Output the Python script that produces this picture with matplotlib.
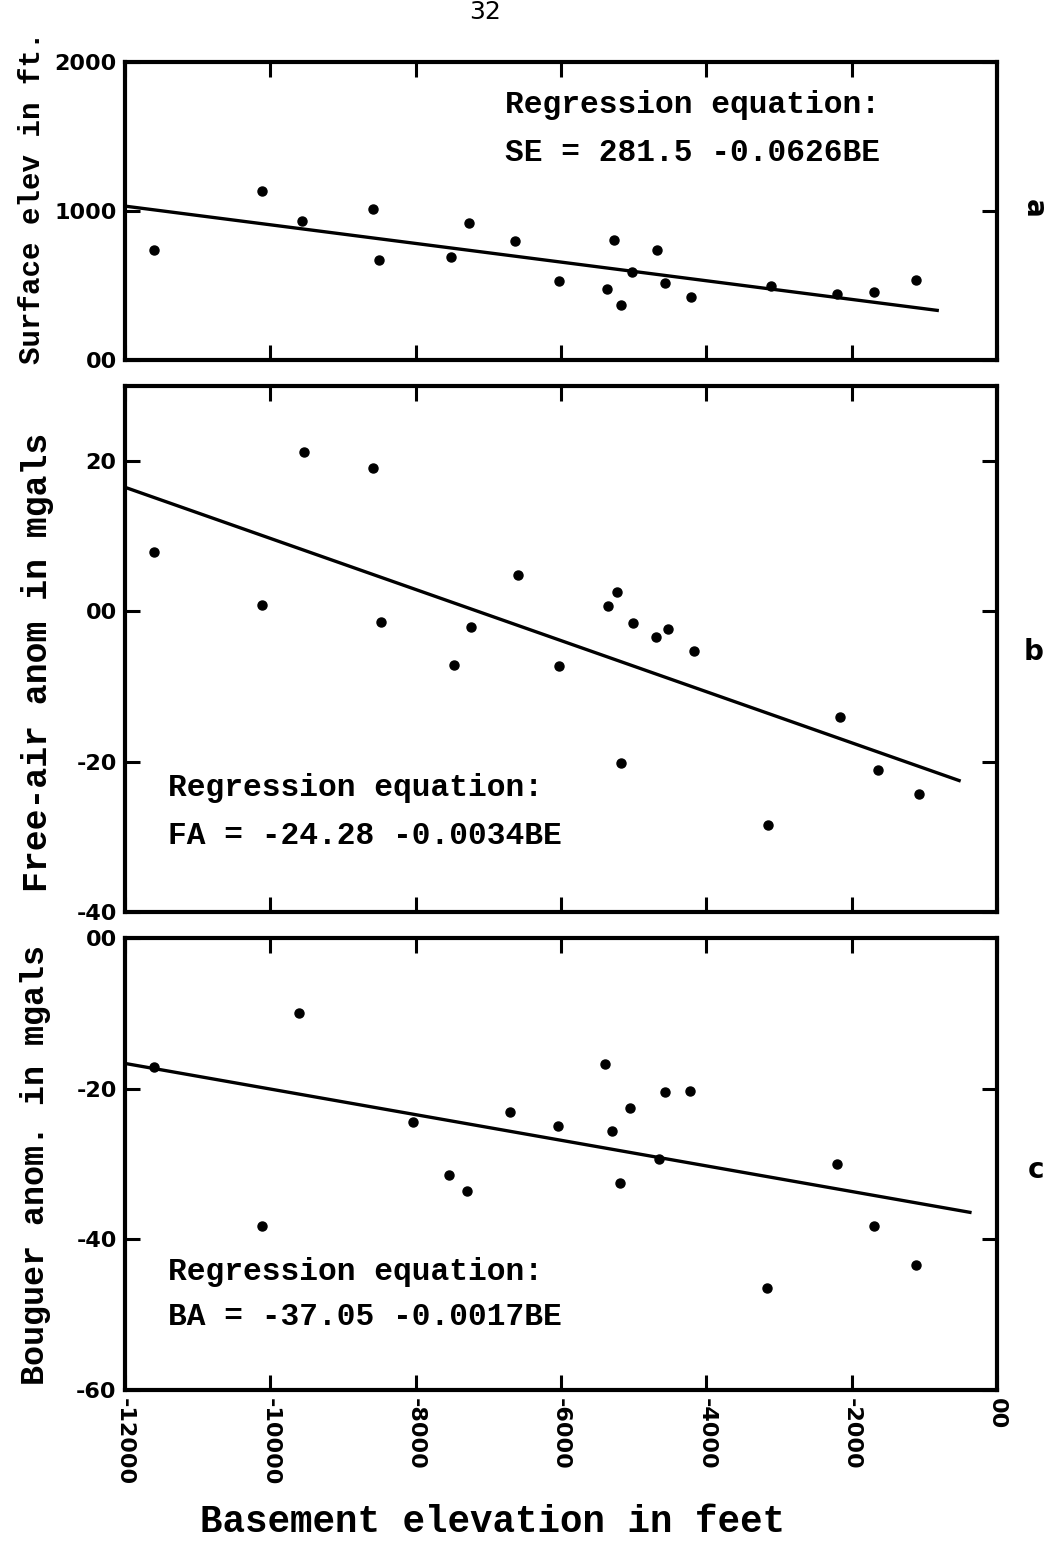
import numpy as np
import matplotlib
matplotlib.use("Agg")
import matplotlib.pyplot as plt

# well data (basement elevation in ft vs. quantity)
se_x = [-11600, -10120, -9560, -8585, -8500, -7510, -7270, -6630, -6030, -5370,
        -5270, -5175, -5020, -4680, -4565, -4205, -3110, -2200, -1690, -1115]
se_y = [738, 1137, 931, 1011, 674, 692, 922, 800, 530, 474,
        805, 370, 588, 738, 519, 424, 499, 441, 459, 537]

fa_x = [-11600, -10115, -9540, -8583, -8477, -7478, -7234, -6594, -6032, -5350,
        -5235, -5180, -5014, -4691, -4530, -4166, -3150, -2163, -1637, -1070]
fa_y = [7.9, 0.9, 21.2, 19.1, -1.4, -7.1, -2.1, 4.9, -7.3, 0.75,
        2.6, -20.2, -1.5, -3.4, -2.4, -5.3, -28.4, -14.1, -21.1, -24.3]

ba_x = [-11606, -10118, -9611, -8036, -7540, -7289, -6706, -6040, -5392, -5300,
        -5185, -5056, -4655, -4572, -4223, -3159, -2205, -1690, -1112]
ba_y = [-17.1, -38.2, -9.9, -24.4, -31.4, -33.6, -23.1, -25.0, -16.7, -25.6,
        -32.5, -22.5, -29.4, -20.5, -20.3, -46.4, -30.0, -38.2, -43.4]

# regression (intercept, slope) and the x span of each fitted line
se_fit = (281.5, -0.0626)
fa_fit = (-24.28, -0.0034)
ba_fit = (-37.05, -0.0017)
se_span = [-12000, -800]
fa_span = [-12000, -500]
ba_span = [-12000, -350]

x_ticks = [-12000, -10000, -8000, -6000, -4000, -2000, 0]
x_labels = ["-12000", "-10000", "-8000", "-6000", "-4000", "-2000", "00"]

W, H = 1049, 1551
fig = plt.figure(figsize=(W / 100, H / 100), dpi=100)


def box(l, t, r, b):
    return [l / W, 1 - b / H, (r - l) / W, (b - t) / H]


mono = {"family": "Liberation Mono", "weight": "bold"}
tickfont = {"family": "DejaVu Sans", "weight": "bold", "size": 16}


def setup(ax, ylim, yticks, ylabels, show_x=False):
    ax.set_xlim(-12000, 0)
    ax.set_ylim(*ylim)
    ax.set_xticks(x_ticks)
    ax.set_yticks(yticks)
    ax.set_yticklabels(ylabels, **tickfont)
    if show_x:
        ax.set_xticklabels(x_labels, rotation=-90, **tickfont)
    else:
        ax.set_xticklabels([])
    ax.tick_params(direction="in", length=11, width=2.2, top=True, right=True,
                   pad=6)
    for s in ax.spines.values():
        s.set_linewidth(3)


def panel(ax, x, y, fit, span):
    ax.plot(x, y, "o", color="black", markersize=6.5)
    xs = np.array(span)
    ax.plot(xs, fit[0] + fit[1] * xs, color="black", lw=2.4, solid_capstyle="butt")


ax1 = fig.add_axes(box(125, 62, 997, 360))
ax2 = fig.add_axes(box(125, 386, 997, 912))
ax3 = fig.add_axes(box(125, 938, 997, 1390))

panel(ax1, se_x, se_y, se_fit, se_span)
panel(ax2, fa_x, fa_y, fa_fit, fa_span)
panel(ax3, ba_x, ba_y, ba_fit, ba_span)

setup(ax1, (0, 2000), [0, 1000, 2000], ["00", "1000", "2000"])
setup(ax2, (-40, 30), [-40, -20, 0, 20], ["-40", "-20", "00", "20"])
setup(ax3, (-60, 0), [-60, -40, -20, 0], ["-60", "-40", "-20", "00"], show_x=True)


def ftext(x, y, s, **kw):
    fig.text(x / W, 1 - y / H, s, **kw)


# regression equations
ftext(505, 105, "Regression equation:", fontsize=22.5, va="center", **mono)
ftext(505, 153, "SE = 281.5 -0.0626BE", fontsize=22.5, va="center", **mono)
ftext(168, 788, "Regression equation:", fontsize=22.5, va="center", **mono)
ftext(168, 836, "FA = -24.28 -0.0034BE", fontsize=22.5, va="center", **mono)
ftext(168, 1272, "Regression equation:", fontsize=22.5, va="center", **mono)
ftext(168, 1317, "BA = -37.05 -0.0017BE", fontsize=22.5, va="center", **mono)

# axis titles
ftext(32, 198, "Surface elev in ft.", fontsize=21, rotation=90, ha="center", va="center", **mono)
ftext(38, 662, "Free-air anom in mgals", fontsize=25, rotation=90, ha="center", va="center", **mono)
ftext(36, 1165, "Bouguer anom. in mgals", fontsize=24, rotation=90, ha="center", va="center", **mono)
ftext(492, 1522, "Basement elevation in feet", fontsize=27, ha="center", va="center", **mono)

# panel letters and page number
ftext(1034, 208, "a", fontsize=20, rotation=-90, ha="center", va="center", family="DejaVu Sans", weight="bold")
ftext(1034, 652, "b", fontsize=20, ha="center", va="center", family="DejaVu Sans", weight="bold")
ftext(1036, 1170, "c", fontsize=20, ha="center", va="center", family="DejaVu Sans", weight="bold")
ftext(485, 12, "32", fontsize=18, ha="center", va="center", family="DejaVu Sans")

fig.savefig("out.png", dpi=100)
